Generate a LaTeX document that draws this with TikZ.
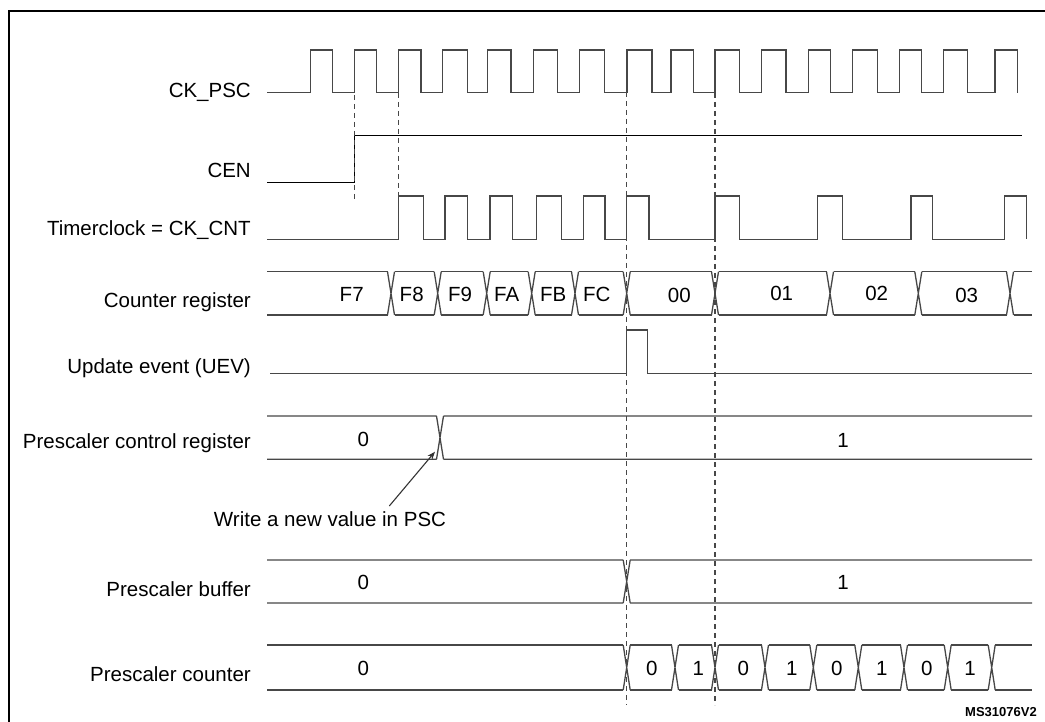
\documentclass[tikz,border=0pt]{standalone}
\usepackage{fontspec}
\setmainfont{Liberation Sans}
\usetikzlibrary{arrows.meta}
\begin{document}
\begin{tikzpicture}[x=1pt,y=-1pt,
  sig/.style={draw=black!72,line width=1.3pt,line join=miter},
  guide/.style={draw=black!72,line width=1.3pt,dash pattern=on 5pt off 4pt},
  lbl/.style={anchor=base east,inner sep=0pt,font=\fontsize{20.5}{24}\selectfont},
  val/.style={anchor=base,inner sep=0pt,font=\fontsize{20.5}{24}\selectfont}]
\useasboundingbox (0,0) rectangle (1045,722);
\clip (0,0) rectangle (1045,722);
% frame
\draw[black,line width=1.6pt] (9,730) -- (9,11) -- (1050,11);

% signal names
\node[lbl] (nPSC) at (251,97.5) {CK\_PSC};
\node[lbl] (nCEN) at (251,177.5) {CEN};
\node[lbl] (nCNT) at (251,235.5) {Timerclock = CK\_CNT};
\node[lbl] (nCR)  at (251,307.5) {Counter register};
\node[lbl] (nUEV) at (251,373.5) {Update event (UEV)};
\node[lbl] (nPCR) at (251,448.3) {Prescaler control register};
\node[lbl] (nPB)  at (251,596.5) {Prescaler buffer};
\node[lbl] (nPC)  at (251,681.7) {Prescaler counter};

% CK_PSC
\draw[sig] (267,92.7)
  \foreach \r/\f in {310.7/332.7,354.3/376.7,398.7/421,442.7/467.7,487.7/511,
     533.3/557.7,579.3/604.3,627/652,671/693.3,715/739.3,761.7/786,808.3/830.7,
     852.3/877.3,899.3/921.7,943.3/967.7,995/1017.3}
  { -- (\r,92.7) -- (\r,50) -- (\f,50) -- (\f,92.7) };

% CEN
\draw[draw=black,line width=1.2pt] (267,182.7) -- (354.3,182.7) -- (354.3,135.7) -- (1021.7,135.7);

% CK_CNT
\draw[sig] (267,239.3)
  \foreach \r/\f in {398.7/423.3,445/467.7,490/512.7,536.7/561.7,583.3/605,
     626.7/649,715/739.3,817.7/842.3,911/932.7,1004.3/1026.7}
  { -- (\r,239.3) -- (\r,196) -- (\f,196) -- (\f,239.3) };

% Counter register bus
\foreach \a/\b in {267/387.5,394.5/434.2,441.2/483.2,490.2/528.2,535.2/571.5,
   578.5/623.2,630.2/711.5,718.5/826.5,833.5/914.8,921.8/1006.5,1013.5/1032}
  { \draw[sig] (\a,271.7) -- (\b,271.7) (\a,315) -- (\b,315); }
\foreach \c in {391,437.7,486.7,531.7,575,626.7,715,830,918.3,1010}
  { \draw[sig] ({\c-3.5},271.7) -- ({\c+3.5},315) ({\c-3.5},315) -- ({\c+3.5},271.7); }
\node[val] (cF7) at (351.7,301.7) {F7};
\node[val] (cF8) at (411.7,301.7) {F8};
\node[val] (cF9) at (460,301.7) {F9};
\node[val] (cFA) at (506.7,301.7) {FA};
\node[val] (cFB) at (553.3,301.7) {FB};
\node[val] (cFC) at (596.7,301.7) {FC};
\node[val] (c00) at (679.3,302.7) {00};
\node[val] (c01) at (781.7,301) {01};
\node[val] (c02) at (876.7,301) {02};
\node[val] (c03) at (966.7,302.7) {03};

% Update event
\draw[sig] (270,373.3) -- (626.7,373.3) -- (626.7,330) -- (647.2,330) -- (647.2,373.3) -- (1032,373.3);

% Prescaler control register
\draw[sig] (267,416) -- (436.5,416) (267,459.3) -- (436.5,459.3)
  (443.5,416) -- (1032,416) (443.5,459.3) -- (1032,459.3)
  (436.5,416) -- (443.5,459.3) (436.5,459.3) -- (443.5,416);
\node[val] (p0) at (363.3,446.7) {0};
\node[val] (p1) at (843,447) {1};

% annotation
\node[anchor=base,inner sep=0pt,font=\fontsize{20.5}{24}\selectfont] (wnote) at (330,526) {Write a new value in PSC};
\coordinate (wtail) at (389.3,506);
\coordinate (wtip) at (435,451.7);
\draw[draw=black!80,line width=1.1pt,-{Stealth[length=8pt,width=6pt]}] (wtail) -- (wtip);

% Prescaler buffer
\draw[sig] (267,560) -- (623.2,560) (267,603) -- (623.2,603)
  (630.2,560) -- (1032,560) (630.2,603) -- (1032,603)
  (623.2,560) -- (630.2,603) (623.2,603) -- (630.2,560);
\node[val] (b0) at (363.3,589.5) {0};
\node[val] (b1) at (843,589) {1};

% Prescaler counter
\foreach \a/\b in {267/623.2,630.2/671.5,678.5/711.5,718.5/761.5,768.5/809.8,
   816.8/854.8,861.8/900.5,907.5/944.2,951.2/988.2,995.2/1032}
  { \draw[sig] (\a,645) -- (\b,645) (\a,690) -- (\b,690); }
\foreach \c in {626.7,675,715,765,813.3,858.3,904,947.7,991.7}
  { \draw[sig] ({\c-3.5},645) -- ({\c+3.5},690) ({\c-3.5},690) -- ({\c+3.5},645); }
\node[val] (k0) at (363.3,675) {0};
\node[val] (k1) at (651.7,675) {0};
\node[val] (k2) at (698.3,675.5) {1};
\node[val] (k3) at (743.3,675) {0};
\node[val] (k4) at (791.7,675.5) {1};
\node[val] (k5) at (836.7,675) {0};
\node[val] (k6) at (881.7,675.5) {1};
\node[val] (k7) at (926.7,675) {0};
\node[val] (k8) at (970,675.5) {1};

% dashed guides
\draw[guide] (354.7,95) -- (354.7,201);
\draw[guide] (398.7,93) -- (398.7,196);
\draw[guide] (626.7,83) -- (626.7,705);
\draw[guide] (715,93) -- (715,705);

% figure id
\node[anchor=base west,inner sep=0pt,font=\fontsize{13}{15}\selectfont\bfseries] (fid) at (965,716) {MS31076V2};
\end{tikzpicture}
\end{document}
